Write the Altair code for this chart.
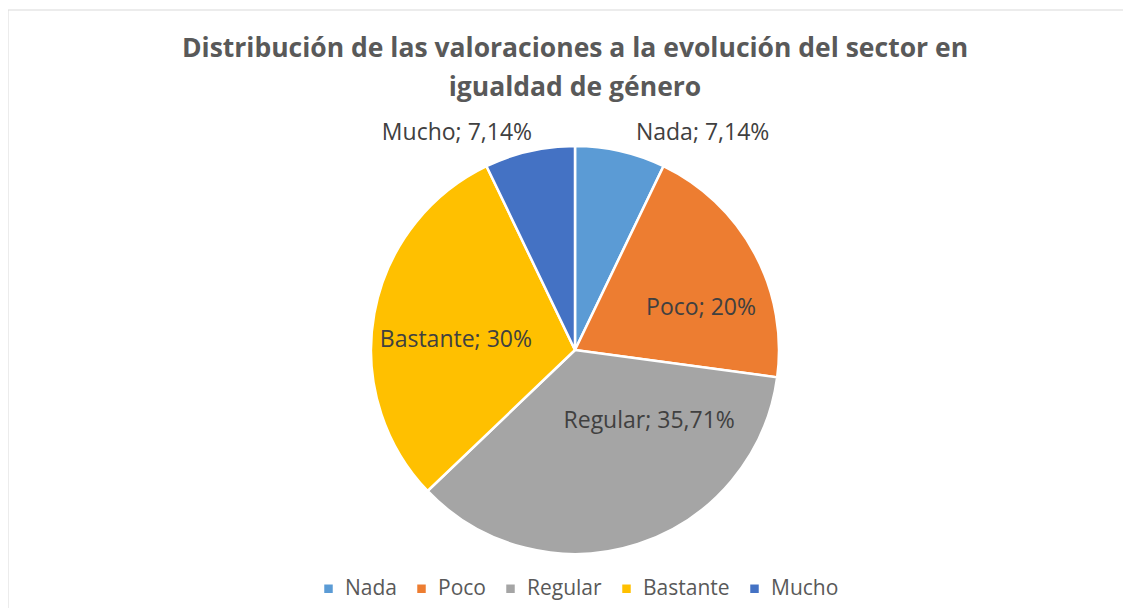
import altair as alt
import pandas as pd

categorias = ["Nada", "Poco", "Regular", "Bastante", "Mucho"]
porcentajes = [7.14, 20, 35.71, 30, 7.14]
colores = ["#5B9BD5", "#ED7D31", "#A5A5A5", "#FFC000", "#4472C4"]


def fmt(v):
    return f"{v:g}".replace(".", ",") + "%"


df = pd.DataFrame({
    "cat": categorias,
    "val": porcentajes,
    "orden": list(range(len(categorias))),
    "label": [f"{c}; {fmt(v)}" for c, v in zip(categorias, porcentajes)],
})

FONT = "Open Sans"
W, H = 1115, 598
CX, CY = 567, 340   # pie centre inside the view
R = 204

base = alt.Chart(df).encode(
    theta=alt.Theta("val:Q", stack=True),
    order=alt.Order("orden:Q"),
    x=alt.value(CX),
    y=alt.value(CY),
)

pie = base.mark_arc(outerRadius=R, stroke="white", strokeWidth=2.5).encode(
    color=alt.Color(
        "cat:N",
        scale=alt.Scale(domain=categorias, range=colores),
        sort=categorias,
        legend=alt.Legend(
            title=None,
            orient="none",
            legendX=310,
            legendY=568,
            direction="horizontal",
            symbolType="square",
            symbolSize=72,
            symbolStrokeWidth=0,
            labelFont=FONT,
            labelFontSize=21,
            labelColor="#595959",
            columnPadding=14,
            labelOffset=6,
        ),
    )
)


def lbl(cats, radius, **kw):
    cond = " || ".join(f"datum.cat == '{c}'" for c in cats)
    return base.mark_text(
        radius=radius, font=FONT, fontSize=23, color="#404040", **kw
    ).encode(
        text=alt.condition(cond, alt.Text("label:N"), alt.value(""))
    )


poco = lbl(["Poco"], 117, dx=23, dy=13)
bast = lbl(["Bastante"], 117, dx=-4, dy=11)
regular = lbl(["Regular"], 117, dx=38, dy=-40)
nada = lbl(["Nada"], 220, align="left", dx=12, dy=-3)
mucho = lbl(["Mucho"], 220, align="right", dx=6, dy=-3)

frame = alt.Chart(pd.DataFrame({"f": [0]})).mark_rect(
    fill=None, stroke="#D9D9D9", strokeWidth=1
).encode(
    x=alt.value(0), x2=alt.value(W + 30),
    y=alt.value(0), y2=alt.value(H + 30),
)

chart = (
    alt.layer(frame, pie, poco, bast, regular, nada, mucho)
    .properties(
        width=W,
        height=H,
        padding={"left": 0, "top": 2, "right": 0, "bottom": 0},
        autosize=alt.AutoSizeParams(type="none"),
        title=alt.TitleParams(
            text=[
                "Distribución de las valoraciones a la evolución del sector en",
                "igualdad de género",
            ],
            font=FONT,
            fontSize=26.5,
            fontWeight="bold",
            color="#595959",
            anchor="middle",
            baseline="top",
            lineHeight=39,
            offset=-92,
            dx=9.5,
        ),
    )
    .configure_view(stroke=None)
)

chart.save("out.html", embed_options={"renderer": "svg", "actions": False})
